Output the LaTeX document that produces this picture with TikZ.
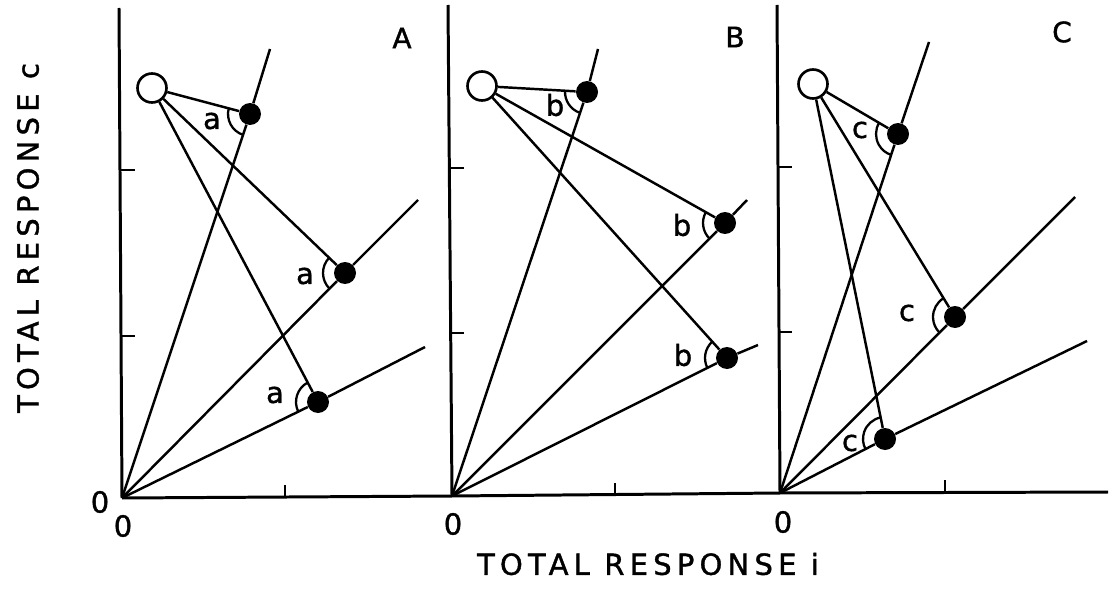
\documentclass[tikz,border=0pt]{standalone}
\usepackage{fontspec}
\setmainfont[FakeBold=1.3]{DejaVu Sans}
\newfontfamily\spacedfont[LetterSpace=18, FakeBold=1.3]{DejaVu Sans}
\usepackage{tikz}
\usetikzlibrary{angles}

\begin{document}
\begin{tikzpicture}[
		x=0.02cm, y=-0.02cm,
		axis/.style={line width=1.7pt},
		tickmark/.style={line width=1.5pt},
		ray/.style={line width=1.4pt},
		link/.style={line width=1.4pt},
		opendot/.style={circle, draw, fill=white, line width=1.5pt, inner sep=0pt, minimum size=0.58cm},
		fulldot/.style={circle, fill=black, inner sep=0pt, minimum size=0.44cm},
		anglearc/.style={draw, line width=1.3pt, angle radius=0.44cm},
		lbl/.style={font=\fontsize{16.5pt}{20pt}\selectfont, inner sep=0pt},
		title/.style={font=\spacedfont\fontsize{16.5pt}{20pt}\selectfont, inner sep=0pt},
		panel/.style={font=\fontsize{16pt}{18pt}\selectfont, inner sep=0pt}
		]
		\useasboundingbox (0,0) rectangle (1115,598);
		
		% origins and axis ends
		\coordinate (oA) at (122,498);
		\coordinate (oB) at (452,496);
		\coordinate (oC) at (780,493);
		\coordinate (xend) at (1108,492);
		\coordinate (topA) at (119,8);
		\coordinate (topB) at (448,5);
		\coordinate (topC) at (777,5);
		
		\draw[axis] (oA) -- (oB) -- (oC) -- (xend);
		\draw[axis] (oA) -- (topA);
		\draw[axis] (oB) -- (topB);
		\draw[axis] (oC) -- (topC);
		
		% ticks
		\draw[tickmark] (121,170) -- +(14,0);
		\draw[tickmark] (121,336) -- +(14,0);
		\draw[tickmark] (285,498) -- +(0,-13);
		\draw[tickmark] (450,168) -- +(14,0);
		\draw[tickmark] (450,333) -- +(14,0);
		\draw[tickmark] (615,496) -- +(0,-13);
		\draw[tickmark] (778,167) -- +(14,0);
		\draw[tickmark] (778,332) -- +(14,0);
		\draw[tickmark] (945,493) -- +(0,-13);
		
		% panel A
		\coordinate (ea1) at (270,49);
		\coordinate (ea2) at (418,200);
		\coordinate (ea3) at (425,347);
		\node[fulldot] (a1) at (250,114) {};
		\node[fulldot] (a2) at (345,273) {};
		\node[fulldot] (a3) at (318,402) {};
		\node[opendot] (pA) at (152,88) {};
		\draw[ray] (oA) -- (a1) -- (ea1);
		\draw[ray] (oA) -- (a2) -- (ea2);
		\draw[ray] (oA) -- (a3) -- (ea3);
		\draw[link] (pA) -- (a1);
		\draw[link] (pA) -- (a2);
		\draw[link] (pA) -- (a3);
		\pic[anglearc] {angle=pA--a1--oA};
		\pic[anglearc] {angle=pA--a2--oA};
		\pic[anglearc] {angle=pA--a3--oA};
		\node[lbl] (la1) at (212,121) {a};
		\node[lbl] (la2) at (305,276) {a};
		\node[lbl] (la3) at (275,395) {a};
		\node[panel] (tA) at (402,38) {A};
		
		% panel B
		\coordinate (eb1) at (598,49);
		\coordinate (eb2) at (747,200);
		\coordinate (eb3) at (758,345);
		\node[fulldot] (b1) at (587,92) {};
		\node[fulldot] (b2) at (725,223) {};
		\node[fulldot] (b3) at (727,358) {};
		\node[opendot] (pB) at (482,86) {};
		\draw[ray] (oB) -- (b1) -- (eb1);
		\draw[ray] (oB) -- (b2) -- (eb2);
		\draw[ray] (oB) -- (b3) -- (eb3);
		\draw[link] (pB) -- (b1);
		\draw[link] (pB) -- (b2);
		\draw[link] (pB) -- (b3);
		\pic[anglearc] {angle=pB--b1--oB};
		\pic[anglearc] {angle=pB--b2--oB};
		\pic[anglearc] {angle=pB--b3--oB};
		\node[lbl] (lb1) at (555,105) {b};
		\node[lbl] (lb2) at (682,225) {b};
		\node[lbl] (lb3) at (683,355) {b};
		\node[panel] (tB) at (735,37) {B};
		
		% panel C
		\coordinate (ec1) at (929,42);
		\coordinate (ec2) at (1075,197);
		\coordinate (ec3) at (1087,341);
		\node[fulldot] (c1) at (898,134) {};
		\node[fulldot] (c2) at (955,317) {};
		\node[fulldot] (c3) at (885,439) {};
		\node[opendot] (pC) at (813,84) {};
		\draw[ray] (oC) -- (c1) -- (ec1);
		\draw[ray] (oC) -- (c2) -- (ec2);
		\draw[ray] (oC) -- (c3) -- (ec3);
		\draw[link] (pC) -- (c1);
		\draw[link] (pC) -- (c2);
		\draw[link] (pC) -- (c3);
		\pic[anglearc] {angle=pC--c1--oC};
		\pic[anglearc] {angle=pC--c2--oC};
		\pic[anglearc] {angle=pC--c3--oC};
		\node[lbl] (lc1) at (860,130) {c};
		\node[lbl] (lc2) at (907,313) {c};
		\node[lbl] (lc3) at (850,443) {c};
		\node[panel] (tC) at (1062,32) {C};
		
		% zeros and axis titles
		\node[lbl] (zy) at (100,502) {0};
		\node[lbl] (zA) at (123,526) {0};
		\node[lbl] (zB) at (453,524) {0};
		\node[lbl] (zC) at (783,522) {0};
		\node[title, rotate=90] (ylab) at (28,238) {TOTAL RESPONSE c};
		\node[title] (xlab) at (648,564) {TOTAL RESPONSE i};
		
	\end{tikzpicture}
\end{document}
